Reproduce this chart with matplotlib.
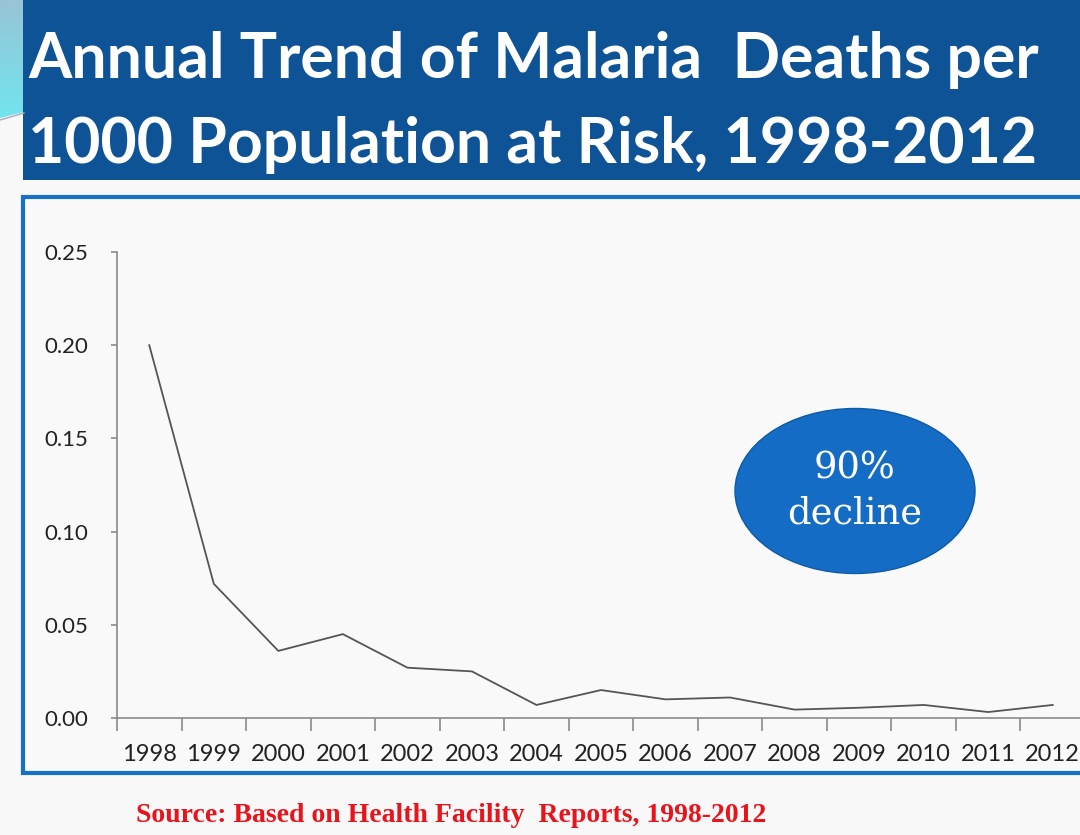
import numpy as np
import matplotlib.pyplot as plt
from matplotlib.colors import LinearSegmentedColormap
from matplotlib.patches import Rectangle, Ellipse, Polygon

# Data
years = ["1998", "1999", "2000", "2001", "2002", "2003", "2004", "2005",
         "2006", "2007", "2008", "2009", "2010", "2011", "2012"]
deaths = [0.200, 0.072, 0.036, 0.045, 0.027, 0.025, 0.007, 0.015,
          0.010, 0.011, 0.0045, 0.0055, 0.007, 0.0032, 0.007]
y_ticks = [0.00, 0.05, 0.10, 0.15, 0.20, 0.25]
y_labels = ["0.00", "0.05", "0.10", "0.15", "0.20", "0.25"]

title_1 = "Annual Trend of Malaria  Deaths per"
title_2 = "1000 Population at Risk, 1998-2012"
source = "Source: Based on Health Facility  Reports, 1998-2012"
note = "90%\ndecline"

W, H = 1080, 835
fig = plt.figure(figsize=(W / 100, H / 100), dpi=100)
fig.patch.set_facecolor("#f8f8f8")

# background layer in pixel coordinates for the slide decoration
bg = fig.add_axes([0, 0, 1, 1])
bg.set_xlim(0, W)
bg.set_ylim(H, 0)
bg.axis("off")

# cyan sliver at top left
grad = np.linspace(0, 1, 100).reshape(-1, 1)
cyan = LinearSegmentedColormap.from_list("c", ["#98c4d6", "#6fe6f0"])
bg.imshow(grad, extent=(0, 24, 125, 0), cmap=cyan, aspect="auto", zorder=1)
bg.add_patch(Polygon([[0, 118], [24, 112], [24, 125], [0, 132]], closed=True,
                     facecolor="#f8f8f8", edgecolor="none", zorder=2))
bg.plot([0, 24], [120, 113], color="#aab", lw=1, zorder=3)

# title banner
bg.add_patch(Rectangle((23, 0), W - 23, 180, facecolor="#0e5396", edgecolor="none", zorder=2))
bg.text(28, 78, title_1, color="white", fontsize=45, fontweight="bold",
        family="Lato", va="baseline", ha="left", zorder=4)
bg.text(28, 163, title_2, color="white", fontsize=45, fontweight="bold",
        family="Lato", va="baseline", ha="left", zorder=4)

# chart frame
bg.add_patch(Rectangle((23, 197), W + 20, 576, facecolor="#f9f9f9",
                       edgecolor="#1670c4", lw=3, zorder=2))

# source note
bg.text(136, 816, source, color="#e8141c", fontsize=20, fontweight="bold",
        family="Liberation Serif", va="center", ha="left", zorder=4)

# the data axes
ax = fig.add_axes([117 / W, (H - 718) / H, 968 / W, (718 - 252) / H])
ax.patch.set_alpha(0)
x = np.arange(len(years))
ax.plot(x, deaths, color="#555555", lw=1.3)

ax.set_xlim(-0.5, len(years) - 0.5)
ax.set_ylim(0, 0.25)
ax.set_yticks(y_ticks)
ax.set_yticklabels(y_labels)
ax.set_xticks(x)
ax.set_xticklabels(years)
ax.set_xticks(np.arange(-0.5, len(years), 1), minor=True)

for s in ["top", "right"]:
    ax.spines[s].set_visible(False)
for s in ["left", "bottom"]:
    ax.spines[s].set_color("#8a8a8a")
    ax.spines[s].set_linewidth(1.2)

ax.tick_params(axis="x", which="major", length=0, pad=19, labelsize=17, labelcolor="#222222")
ax.tick_params(axis="x", which="minor", length=9, width=1.2, color="#8a8a8a")
ax.tick_params(axis="y", length=4, width=1.2, color="#8a8a8a", pad=17, labelsize=16, labelcolor="#222222")
for lab in ax.get_xticklabels() + ax.get_yticklabels():
    lab.set_family("Lato")

# 90% decline bubble
bg.add_patch(Ellipse((855, 491), 240, 165, facecolor="#146cc4", edgecolor="#0f5aa8", lw=1, zorder=5))
bg.text(855, 491, note, color="white", fontsize=26.5, family="DejaVu Serif",
        ha="center", va="center", linespacing=1.35, zorder=6)

fig.savefig("out.png", dpi=100, facecolor=fig.get_facecolor())
